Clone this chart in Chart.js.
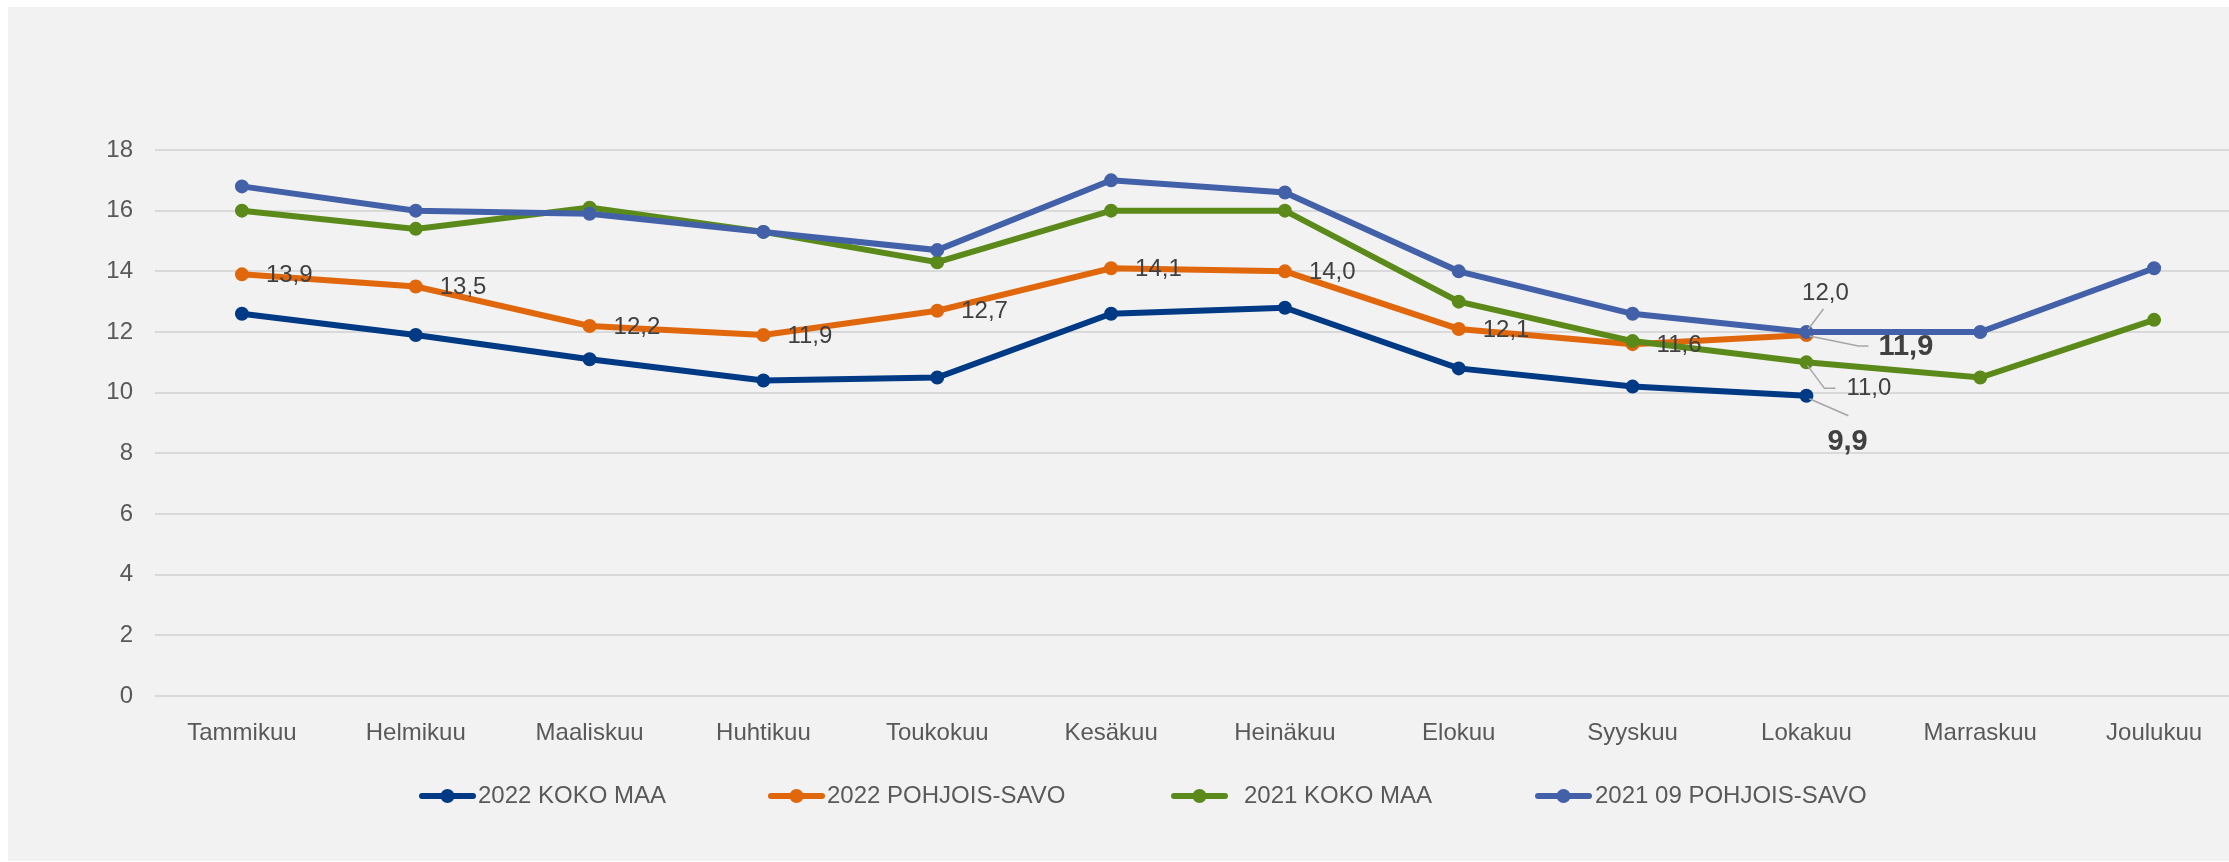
<!DOCTYPE html>
<html>
<head>
<meta charset="utf-8">
<script src="https://cdn.jsdelivr.net/npm/chart.js@4.4.1/dist/chart.umd.min.js"></script>
<style>
    html, body { margin: 0; padding: 0; overflow: hidden; background: #ffffff; }
    #wrap { position: relative; width: 2229px; height: 862px; overflow: hidden; }
    #bg { position: absolute; left: 8px; top: 7px; width: 2300px; height: 854px; background: #f2f2f2; }
    #chart { position: absolute; left: 0; top: 0; }
</style>
</head>
<body>
<div id="wrap">
    <div id="bg"></div>
    <canvas id="chart" width="2250" height="862"></canvas>
</div>
<script>
const months = ['Tammikuu', 'Helmikuu', 'Maaliskuu', 'Huhtikuu', 'Toukokuu', 'Kesäkuu',
    'Heinäkuu', 'Elokuu', 'Syyskuu', 'Lokakuu', 'Marraskuu', 'Joulukuu'];

const seriesNames = ['2022 KOKO MAA', '2022 POHJOIS-SAVO', '2021 KOKO MAA', '2021 09 POHJOIS-SAVO'];

const kokoMaa2022 = [12.6, 11.9, 11.1, 10.4, 10.5, 12.6, 12.8, 10.8, 10.2, 9.9, null, null];
const pohjoisSavo2022 = [13.9, 13.5, 12.2, 11.9, 12.7, 14.1, 14.0, 12.1, 11.6, 11.9, null, null];
const kokoMaa2021 = [16.0, 15.4, 16.1, 15.3, 14.3, 16.0, 16.0, 13.0, 11.7, 11.0, 10.5, 12.4];
const pohjoisSavo2021 = [16.8, 16.0, 15.9, 15.3, 14.7, 17.0, 16.6, 14.0, 12.6, 12.0, 12.0, 14.1];

const yTicks = [0, 2, 4, 6, 8, 10, 12, 14, 16, 18];

const colors = ['#003a84', '#e0670c', '#5b8a1b', '#4361a8'];
const FONT = '"Liberation Sans", Arial, sans-serif';

// latest month gets the callout labels with leader lines
const calloutIndex = 9;
const callouts = [
    { ds: 3, bold: false, dx: 19, dy: -39, align: 'center', leader: [[2, -3], [17, -23]] },
    { ds: 1, bold: true, dx: 72, dy: 12, align: 'left', leader: [[3, 1], [52, 11], [62, 11]] },
    { ds: 2, bold: false, dx: 40, dy: 26, align: 'left', leader: [[1, 3], [18, 26], [29, 26]] },
    { ds: 0, bold: true, dx: 21, dy: 46, align: 'left', leader: [[3, 3], [42, 20]] }
];

const legendX = [419, 768, 1171, 1535];
const legendTextX = [478, 827, 1244, 1595];

function fmt(v) {
    return v.toFixed(1).replace('.', ',');
}

const labelPlugin = {
    id: 'labelPlugin',
    afterDatasetsDraw(chart) {
        const ctx = chart.ctx;
        ctx.save();
        ctx.textBaseline = 'middle';

        // plain labels for 2022 Pohjois-Savo
        ctx.font = '24px ' + FONT;
        ctx.fillStyle = '#404040';
        ctx.textAlign = 'left';
        chart.getDatasetMeta(1).data.forEach(function(pt, i) {
            const v = chart.data.datasets[1].data[i];
            if (v == null || i === calloutIndex) return;
            ctx.fillText(fmt(v), pt.x + 24, pt.y + 1);
        });

        callouts.forEach(function(c) {
            const pt = chart.getDatasetMeta(c.ds).data[calloutIndex];
            const v = chart.data.datasets[c.ds].data[calloutIndex];
            ctx.strokeStyle = '#a6a6a6';
            ctx.lineWidth = 1.5;
            ctx.beginPath();
            c.leader.forEach(function(p, k) {
                if (k === 0) ctx.moveTo(pt.x + p[0], pt.y + p[1]);
                else ctx.lineTo(pt.x + p[0], pt.y + p[1]);
            });
            ctx.stroke();
            ctx.font = (c.bold ? 'bold 29px ' : '24px ') + FONT;
            ctx.fillStyle = '#404040';
            ctx.textAlign = c.align;
            ctx.fillText(fmt(v), pt.x + c.dx, pt.y + c.dy);
        });
        ctx.restore();
    },
    afterDraw(chart) {
        const ctx = chart.ctx;
        const y = 796;
        ctx.save();
        chart.data.datasets.forEach(function(ds, i) {
            const x0 = legendX[i];
            ctx.strokeStyle = ds.borderColor;
            ctx.lineWidth = 6;
            ctx.lineCap = 'round';
            ctx.beginPath();
            ctx.moveTo(x0 + 3, y);
            ctx.lineTo(x0 + 54, y);
            ctx.stroke();
            ctx.fillStyle = ds.borderColor;
            ctx.beginPath();
            ctx.arc(x0 + 28.5, y, 7, 0, Math.PI * 2);
            ctx.fill();
            ctx.font = '24px ' + FONT;
            ctx.fillStyle = '#595959';
            ctx.textAlign = 'left';
            ctx.textBaseline = 'middle';
            ctx.fillText(ds.label, legendTextX[i], y);
        });
        ctx.restore();
    }
};

const seriesData = [kokoMaa2022, pohjoisSavo2022, kokoMaa2021, pohjoisSavo2021];

new Chart(document.getElementById('chart'), {
    type: 'line',
    data: {
        labels: months,
        datasets: seriesData.map(function(d, i) {
            return {
                label: seriesNames[i],
                data: d,
                borderColor: colors[i],
                backgroundColor: colors[i],
                pointBackgroundColor: colors[i],
                pointBorderColor: colors[i],
                borderWidth: 6,
                pointRadius: 6,
                pointBorderWidth: 2,
                tension: 0,
                order: 4 - i
            };
        })
    },
    options: {
        responsive: false,
        animation: false,
        layout: {
            padding: { top: 150, right: 9, bottom: 0, left: 0 }
        },
        plugins: {
            legend: { display: false },
            tooltip: { enabled: false }
        },
        scales: {
            x: {
                offset: true,
                grid: { display: false },
                border: { display: false },
                ticks: {
                    color: '#595959',
                    padding: 15,
                    maxRotation: 0,
                    autoSkip: false,
                    font: { family: FONT, size: 24 }
                },
                afterFit: function(scale) { scale.height = 166; }
            },
            y: {
                min: 0,
                max: 18,
                afterBuildTicks: function(scale) {
                    scale.ticks = yTicks.map(function(v) { return { value: v }; });
                },
                grid: { color: '#d9d9d9', lineWidth: 2, drawTicks: false },
                border: { display: false },
                ticks: {
                    color: '#595959',
                    padding: 22,
                    font: { family: FONT, size: 24 }
                },
                afterFit: function(scale) { scale.width = 155; }
            }
        }
    },
    plugins: [labelPlugin]
});
</script>
</body>
</html>
